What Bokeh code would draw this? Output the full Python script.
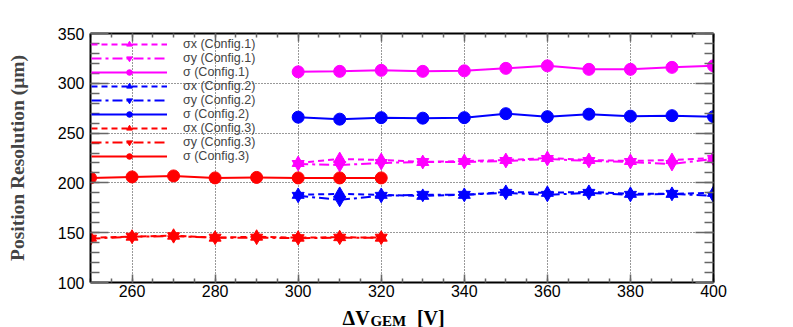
from bokeh.plotting import figure
from bokeh.layouts import column
from bokeh.models import (Legend, LegendItem, LinearAxis, FixedTicker,
                          CustomJSTickFormatter)
from bokeh.core.properties import value
from bokeh.embed import file_html
from bokeh.resources import INLINE

# ---------------- data ----------------
v_c12 = [300, 310, 320, 330, 340, 350, 360, 370, 380, 390, 400]
sx_c1 = [220, 224, 223, 221, 222, 223, 225, 223, 222, 223, 225]
sy_c1 = [219, 218, 220, 221, 221, 222, 224, 222, 221, 219, 224]
sig_c1 = [311.5, 312, 313, 312, 312.5, 315, 317.5, 314, 314, 316, 317.5]

sx_c2 = [188, 189, 188, 187, 188, 191, 190, 191, 189, 189, 190]
sy_c2 = [187, 183, 187, 188, 188, 190, 188, 190, 188, 189, 187]
sig_c2 = [266, 264, 265.5, 265, 265.5, 269.5, 266.5, 269, 267, 267.5, 266.5]

v_c3 = [250, 260, 270, 280, 290, 300, 310, 320]
sx_c3 = [145, 146, 147, 145, 146, 145, 145.5, 145]
sy_c3 = [144, 146, 146.5, 145, 145, 144.5, 145, 145]
sig_c3 = [205, 206, 207, 205, 205.5, 205, 205, 205]

x_major = [260, 280, 300, 320, 340, 360, 380, 400]
x_minor = list(range(250, 401, 5))
y_major = [100, 150, 200, 250, 300, 350]
y_minor = list(range(100, 351, 10))

y_title = "Position Resolution (μm)"
x_title_parts = ["ΔV", "GEM", "[V]"]   # ΔV with subscript GEM, then unit

series = [
    ("σx (Config.1)", v_c12, sx_c1, "#ff00ff", "6 4", "triangle"),
    ("σy (Config.1)", v_c12, sy_c1, "#ff00ff", "10 4 3 4", "inverted_triangle"),
    ("σ (Config.1)", v_c12, sig_c1, "#ff00ff", "solid", "circle"),
    ("σx (Config.2)", v_c12, sx_c2, "#0000ff", "6 4", "triangle"),
    ("σy (Config.2)", v_c12, sy_c2, "#0000ff", "10 4 3 4", "inverted_triangle"),
    ("σ (Config.2)", v_c12, sig_c2, "#0000ff", "solid", "circle"),
    ("σx (Config.3)", v_c3, sx_c3, "#ff0000", "6 4", "triangle"),
    ("σy (Config.3)", v_c3, sy_c3, "#ff0000", "10 4 3 4", "inverted_triangle"),
    ("σ (Config.3)", v_c3, sig_c3, "#ff0000", "solid", "circle"),
]

p = figure(width=793, height=304, x_range=(250, 400), y_range=(100, 350),
           output_backend="svg", toolbar_location=None,
           min_border_left=90, min_border_right=80, min_border_top=33,
           min_border_bottom=22, outline_line_color=None)


def style_axis(ax, ticker, tick_in, minor_in, labels=True):
    ax.ticker = ticker
    ax.axis_line_width = 2
    ax.axis_line_color = "black"
    ax.major_tick_in = tick_in
    ax.major_tick_out = 0
    ax.minor_tick_in = minor_in
    ax.minor_tick_out = 0
    ax.major_tick_line_color = "#666666"
    ax.minor_tick_line_color = "#666666"
    ax.major_tick_line_width = 1.5
    ax.minor_tick_line_width = 1.5
    if labels:
        ax.major_label_text_font = "Liberation Sans"
        ax.major_label_text_font_size = "16px"
        ax.major_label_text_color = "black"
    else:
        ax.formatter = CustomJSTickFormatter(code="return ''")
        ax.major_label_standoff = 0


xt = FixedTicker(ticks=x_major, minor_ticks=x_minor)
yt = FixedTicker(ticks=y_major, minor_ticks=y_minor)

style_axis(p.xaxis[0], xt, 8, 4)
style_axis(p.yaxis[0], yt, 18, 9)
p.xaxis.major_label_standoff = 2
p.yaxis.major_label_standoff = 6
p.yaxis.axis_label = y_title
p.yaxis.axis_label_text_font = "Liberation Serif"
p.yaxis.axis_label_text_font_style = "bold"
p.yaxis.axis_label_text_font_size = "19.5px"
p.yaxis.axis_label_standoff = 27

top = LinearAxis()
style_axis(top, xt, 8, 4, labels=False)
p.add_layout(top, "above")
right = LinearAxis()
style_axis(right, yt, 18, 9, labels=False)
p.add_layout(right, "right")

p.xgrid.ticker = xt
p.ygrid.ticker = yt
for g in (p.xgrid[0], p.ygrid[0]):
    g.grid_line_color = "#333333"
    g.grid_line_dash = "1 2"
    g.grid_line_width = 1

items = []
for label, xs, ys, color, dash, marker in series:
    ln = p.line(xs, ys, line_color=color, line_width=2, line_dash=dash)
    sc = p.scatter(xs, ys, marker=marker, size=12, fill_color=color,
                   line_color=color)
    items.append(LegendItem(label=label, renderers=[ln, sc]))

legend = Legend(items=items, location=(1, 119))
legend.margin = 0
legend.padding = 2
legend.spacing = 0
legend.label_height = 14
legend.glyph_height = 14
legend.glyph_width = 76
legend.label_standoff = 16
legend.border_line_color = None
legend.background_fill_alpha = 0
legend.label_text_font = "Liberation Sans"
legend.label_text_font_size = "12.5px"
legend.label_text_line_height = 1.0
p.add_layout(legend)

# ---- strip below the plot holding the x-axis title ΔV_GEM [V] ----
# (its frame is aligned with the main plot's frame, so it shares the x range)
p2 = figure(width=793, height=23, x_range=p.x_range, y_range=(0, 23),
            output_backend="svg", toolbar_location=None, min_border=0,
            x_axis_location=None, y_axis_location=None,
            outline_line_color=None)
p2.grid.visible = False
serif = value("Liberation Serif")
p2.text(x=[310.7], y=[10], text=[x_title_parts[0]], text_font=serif,
        text_font_style="bold", text_font_size="20px",
        text_baseline="alphabetic", text_align="left", text_color="black")
p2.text(x=[317.4], y=[7], text=[x_title_parts[1]], text_font=serif,
        text_font_style="bold", text_font_size="15px",
        text_baseline="alphabetic", text_align="left", text_color="black")
p2.text(x=[328.6], y=[10], text=[x_title_parts[2]], text_font=serif,
        text_font_style="bold", text_font_size="20px",
        text_baseline="alphabetic", text_align="left", text_color="black")

layout = column(p, p2, spacing=0)
open("out.html", "w").write(file_html(layout, INLINE))
